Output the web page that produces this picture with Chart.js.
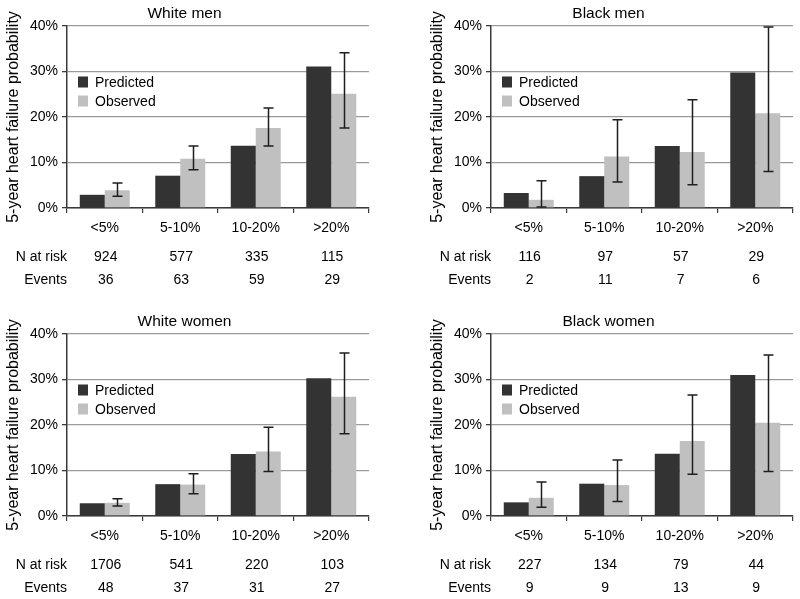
<!DOCTYPE html>
<html>
<head>
<meta charset="utf-8">
<script src="https://cdn.jsdelivr.net/npm/chart.js@4.4.1/dist/chart.umd.min.js"></script>
<style>
  html, body { margin: 0; padding: 0; background: #fff; }
  #wrap { position: relative; width: 800px; height: 599px; overflow: hidden; background: #fff; }
  canvas { position: absolute; }
</style>
</head>
<body>
<div id="wrap">
  <canvas id="c1" width="376" height="291" style="left:0px;top:0px"></canvas>
  <canvas id="c2" width="376" height="291" style="left:424px;top:0px"></canvas>
  <canvas id="c3" width="376" height="291" style="left:0px;top:308px"></canvas>
  <canvas id="c4" width="376" height="291" style="left:424px;top:308px"></canvas>
</div>
<script>
// ---- Data ----
const categories = ['<5%', '5-10%', '10-20%', '>20%'];
const yTickValues = [0, 10, 20, 30, 40];
const seriesNames = ['Predicted', 'Observed'];
const rowLabels = ['N at risk', 'Events'];

const whiteMenPredicted = [2.9, 7.1, 13.7, 31.1];
const whiteMenObserved  = [3.9, 10.8, 17.6, 25.1];
const whiteMenLower     = [2.6, 8.4, 13.6, 17.6];
const whiteMenUpper     = [5.5, 13.6, 22.0, 34.1];
const whiteMenAtRisk    = [924, 577, 335, 115];
const whiteMenEvents    = [36, 63, 59, 29];

const blackMenPredicted = [3.3, 7.0, 13.6, 29.8];
const blackMenObserved  = [1.8, 11.3, 12.3, 20.8];
const blackMenLower     = [0.2, 5.7, 5.1, 8.0];
const blackMenUpper     = [6.0, 19.4, 23.8, 39.8];
const blackMenAtRisk    = [116, 97, 57, 29];
const blackMenEvents    = [2, 11, 7, 6];

const whiteWomenPredicted = [2.8, 7.0, 13.6, 30.3];
const whiteWomenObserved  = [2.9, 6.9, 14.2, 26.2];
const whiteWomenLower     = [2.2, 4.9, 9.8, 18.1];
const whiteWomenUpper     = [3.8, 9.3, 19.5, 35.8];
const whiteWomenAtRisk    = [1706, 541, 220, 103];
const whiteWomenEvents    = [48, 37, 31, 27];

const blackWomenPredicted = [3.0, 7.1, 13.7, 31.0];
const blackWomenObserved  = [4.0, 6.8, 16.5, 20.5];
const blackWomenLower     = [1.9, 3.2, 9.2, 9.8];
const blackWomenUpper     = [7.5, 12.3, 26.6, 35.4];
const blackWomenAtRisk    = [227, 134, 79, 44];
const blackWomenEvents    = [9, 9, 13, 9];

const panelTitles = ['White men', 'Black men', 'White women', 'Black women'];

// ---- Styling ----
const FONT = "'Liberation Sans', Arial, Helvetica, sans-serif";
const DARK = '#333333';
const LIGHT = '#c0c0c0';
const AXIS = '#3a3a3a';
const GRID = '#9a9a9a';

Chart.defaults.font.family = FONT;
Chart.defaults.color = '#000';

const extrasPlugin = {
  id: 'extras',
  afterDatasetsDraw(chart, args, opts) {
    const ctx = chart.ctx;
    const y = chart.scales.y;
    // error bars on observed
    const meta = chart.getDatasetMeta(1);
    ctx.save();
    ctx.strokeStyle = '#1e1e1e';
    ctx.lineWidth = 1.5;
    meta.data.forEach((bar, i) => {
      const yl = y.getPixelForValue(opts.lower[i]);
      const yu = y.getPixelForValue(opts.upper[i]);
      const cx = Math.round(bar.x) + 0.5;
      ctx.beginPath();
      ctx.moveTo(cx, yl); ctx.lineTo(cx, yu);
      ctx.moveTo(cx - 5, yl); ctx.lineTo(cx + 5, yl);
      ctx.moveTo(cx - 5, yu); ctx.lineTo(cx + 5, yu);
      ctx.stroke();
    });
    ctx.restore();
  },
  afterDraw(chart, args, opts) {
    const ctx = chart.ctx;
    const x = chart.scales.x;
    const area = chart.chartArea;
    ctx.save();
    // legend
    const colors = [DARK, LIGHT];
    const ys = [82, 101];
    ctx.font = '14px ' + FONT;
    ctx.textBaseline = 'middle';
    ctx.textAlign = 'left';
    seriesNames.forEach((name, k) => {
      ctx.fillStyle = colors[k];
      ctx.fillRect(area.left + 11, ys[k] - 5.5, 10, 11);
      ctx.fillStyle = '#000';
      ctx.fillText(name, area.left + 28, ys[k] + 1);
    });
    // table rows
    const rows = [opts.atRisk, opts.events];
    const rowY = [257, 280];
    rows.forEach((vals, r) => {
      ctx.textAlign = 'right';
      ctx.fillText(rowLabels[r], area.left, rowY[r]);
      ctx.textAlign = 'center';
      vals.forEach((v, i) => {
        ctx.fillText(String(v), x.getPixelForValue(i) + 1, rowY[r]);
      });
    });
    ctx.restore();
  }
};

function makePanel(id, title, pred, obs, lower, upper, atRisk, events) {
  return new Chart(document.getElementById(id), {
    type: 'bar',
    data: {
      labels: categories,
      datasets: [
        { label: seriesNames[0], data: pred, backgroundColor: DARK, borderWidth: 0,
          barPercentage: 1.0, categoryPercentage: 0.662 },
        { label: seriesNames[1], data: obs, backgroundColor: LIGHT, borderWidth: 0,
          barPercentage: 1.0, categoryPercentage: 0.662 }
      ]
    },
    options: {
      responsive: false,
      animation: false,
      devicePixelRatio: 1,
      events: [],
      layout: { padding: { left: 0, right: 7, top: 0, bottom: 0 } },
      plugins: {
        legend: { display: false },
        tooltip: { enabled: false },
        title: {
          display: true, text: title, color: '#000',
          font: { size: 15.5, weight: 'normal', family: FONT, lineHeight: 1.2 },
          padding: { top: 4, bottom: 3.4 }
        },
        extras: { lower, upper, atRisk, events }
      },
      scales: {
        x: {
          offset: true,
          grid: { display: true, drawOnChartArea: false, drawTicks: true, tickLength: 5,
                  tickColor: AXIS, offset: true, lineWidth: 1.2 },
          border: { display: true, color: AXIS, width: 1.5 },
          ticks: { font: { size: 14, family: FONT }, color: '#000', padding: 7, maxRotation: 0 },
          afterFit: s => { s.height = 83; }
        },
        y: {
          min: 0, max: 40,
          afterBuildTicks: s => { s.ticks = yTickValues.map(v => ({ value: v })); },
          grid: { color: GRID, lineWidth: 1.3, tickColor: AXIS, tickLength: 5, drawTicks: true },
          border: { display: true, color: AXIS, width: 1.5 },
          ticks: { font: { size: 14, family: FONT }, color: '#000', padding: 4,
                   callback: v => v + '%' },
          title: { display: true, text: '5-year heart failure probability', color: '#000',
                   font: { size: 16, family: FONT }, padding: { top: 4, bottom: 0 } },
          afterFit: s => { s.width = 67; }
        }
      }
    },
    plugins: [extrasPlugin]
  });
}

makePanel('c1', panelTitles[0], whiteMenPredicted, whiteMenObserved, whiteMenLower, whiteMenUpper, whiteMenAtRisk, whiteMenEvents);
makePanel('c2', panelTitles[1], blackMenPredicted, blackMenObserved, blackMenLower, blackMenUpper, blackMenAtRisk, blackMenEvents);
makePanel('c3', panelTitles[2], whiteWomenPredicted, whiteWomenObserved, whiteWomenLower, whiteWomenUpper, whiteWomenAtRisk, whiteWomenEvents);
makePanel('c4', panelTitles[3], blackWomenPredicted, blackWomenObserved, blackWomenLower, blackWomenUpper, blackWomenAtRisk, blackWomenEvents);
</script>
</body>
</html>
